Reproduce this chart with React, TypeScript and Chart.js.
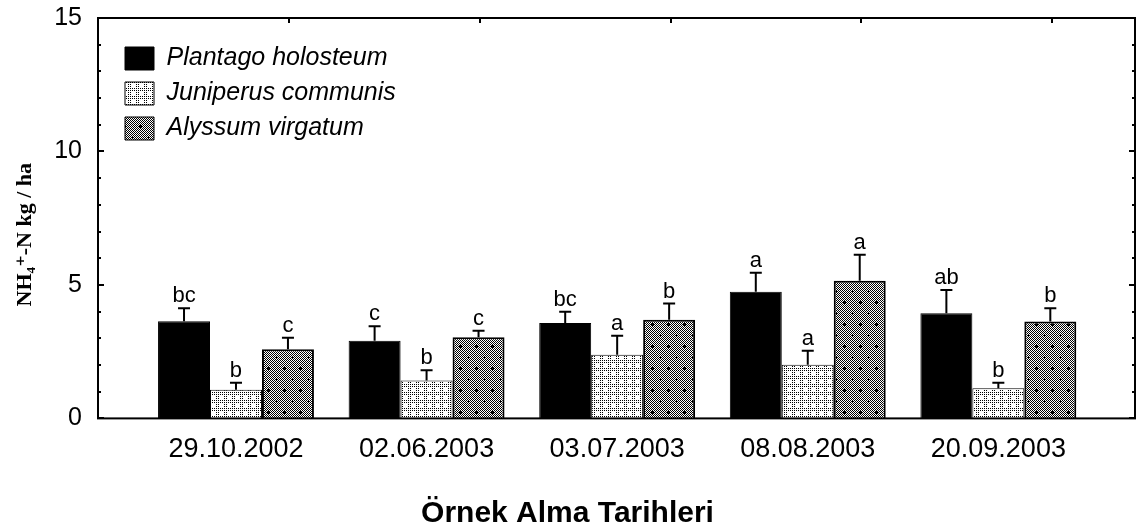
import React, { useEffect, useRef } from 'react';
import { Chart, registerables } from 'chart.js';

Chart.register(...registerables);

const categories = ['29.10.2002', '02.06.2003', '03.07.2003', '08.08.2003', '20.09.2003'];
const seriesNames = ['Plantago holosteum', 'Juniperus communis', 'Alyssum virgatum'];

const plantago = [3.64, 2.91, 3.57, 4.74, 3.94];
const plantagoErr = [4.13, 3.45, 4.0, 5.46, 4.81];
const plantagoLetters = ['bc', 'c', 'bc', 'a', 'ab'];

const juniperus = [1.07, 1.42, 2.38, 2.01, 1.13];
const juniperusErr = [1.34, 1.8, 3.1, 2.53, 1.34];
const juniperusLetters = ['b', 'b', 'a', 'a', 'b'];

const alyssum = [2.59, 3.04, 3.7, 5.16, 3.63];
const alyssumErr = [3.02, 3.28, 4.3, 6.13, 4.13];
const alyssumLetters = ['c', 'c', 'b', 'a', 'b'];

const yMin = 0;
const yMax = 15;
const yStep = 5;

const yTitle = 'NH₄⁺-N kg / ha      ';
const xTitle = 'Örnek Alma Tarihleri';

const SANS = "'Liberation Sans', Arial, sans-serif";
const SERIF = "'Liberation Serif', 'DejaVu Serif', serif";

function dotsPattern(ctx: CanvasRenderingContext2D) {
  const c = document.createElement('canvas');
  c.width = 8;
  c.height = 8;
  const g = c.getContext('2d')!;
  g.fillStyle = '#fff';
  g.fillRect(0, 0, 8, 8);
  g.fillStyle = '#000';
  for (let y = 0; y < 8; y += 2) {
    for (let x = 0; x < 8; x += 2) {
      if ((x === 4 || x === 6) && (y === 4 || y === 6)) continue;
      g.fillRect(x, y, 1, 1);
    }
  }
  return ctx.createPattern(c, 'repeat')!;
}

function checkPlusPattern(ctx: CanvasRenderingContext2D) {
  const w = 16;
  const h = 22;
  const c = document.createElement('canvas');
  c.width = w;
  c.height = h;
  const g = c.getContext('2d')!;
  g.fillStyle = '#fff';
  g.fillRect(0, 0, w, h);
  g.fillStyle = '#000';
  for (let y = 0; y < h; y++) {
    for (let x = 0; x < w; x++) {
      if ((x + y) % 2 === 0) g.fillRect(x, y, 1, 1);
    }
  }
  const plus = (px: number, py: number) => {
    g.fillRect(px - 1, py, 3, 1);
    g.fillRect(px, py - 1, 1, 3);
  };
  plus(4, 5);
  plus(12, 16);
  return ctx.createPattern(c, 'repeat')!;
}

const errorBarPlugin = {
  id: 'errorBars',
  afterDatasetsDraw(chart: any) {
    const ctx: CanvasRenderingContext2D = chart.ctx;
    const yScale = chart.scales.y;
    chart.data.datasets.forEach((ds: any, di: number) => {
      const meta = chart.getDatasetMeta(di);
      meta.data.forEach((bar: any, j: number) => {
        const top = yScale.getPixelForValue(ds.errTop[j]);
        ctx.save();
        ctx.strokeStyle = '#000';
        ctx.lineWidth = 2;
        ctx.beginPath();
        ctx.moveTo(bar.x, bar.y);
        ctx.lineTo(bar.x, top);
        ctx.moveTo(bar.x - 6, top);
        ctx.lineTo(bar.x + 6, top);
        ctx.stroke();
        ctx.font = `22px ${SANS}`;
        ctx.fillStyle = '#000';
        ctx.textAlign = 'center';
        ctx.textBaseline = 'alphabetic';
        ctx.fillText(ds.letters[j], bar.x, top - 6);
        ctx.restore();
      });
    });
  },
};

const framePlugin = {
  id: 'frame',
  afterDraw(chart: any) {
    const ctx: CanvasRenderingContext2D = chart.ctx;
    const { left, right, top, bottom } = chart.chartArea;
    const yScale = chart.scales.y;
    const xScale = chart.scales.x;
    ctx.save();
    ctx.strokeStyle = '#000';
    ctx.lineWidth = 2;
    ctx.strokeRect(left, top, right - left, bottom - top);
    ctx.beginPath();
    for (let v = yMin; v <= yMax; v++) {
      const py = Math.round(yScale.getPixelForValue(v));
      const len = v % yStep === 0 ? 6 : 3;
      ctx.moveTo(left, py);
      ctx.lineTo(left + len, py);
      ctx.moveTo(right, py);
      ctx.lineTo(right - len, py);
    }
    categories.forEach((_, i) => {
      const px = Math.round(xScale.getPixelForValue(i + 0.28));
      ctx.moveTo(px, top);
      ctx.lineTo(px, top + 5);
    });
    ctx.stroke();
    ctx.restore();
  },
};

const legendShiftPlugin = {
  id: 'legendShift',
  afterLayout(chart: any) {
    const l = chart.legend;
    if (l) {
      l.left += 17;
      l.top += 36;
    }
  },
};

export default function App() {
  const ref = useRef<HTMLCanvasElement | null>(null);

  useEffect(() => {
    document.body.style.margin = '0';
    document.body.style.overflow = 'hidden';
    const canvas = ref.current!;
    const ctx = canvas.getContext('2d')!;
    const dots = dotsPattern(ctx);
    const check = checkPlusPattern(ctx);

    const toPoints = (arr: number[]) => arr.map((v, i) => ({ x: i, y: v }));

    const chart = new Chart(canvas, {
      type: 'bar',
      data: {
        datasets: [
          {
            label: seriesNames[0],
            data: toPoints(plantago),
            backgroundColor: '#000',
            borderColor: '#000',
            borderWidth: 1,
            errTop: plantagoErr,
            letters: plantagoLetters,
          } as any,
          {
            label: seriesNames[1],
            data: toPoints(juniperus),
            backgroundColor: dots,
            borderColor: '#000',
            borderWidth: 1,
            errTop: juniperusErr,
            letters: juniperusLetters,
          } as any,
          {
            label: seriesNames[2],
            data: toPoints(alyssum),
            backgroundColor: check,
            borderColor: '#000',
            borderWidth: 2,
            errTop: alyssumErr,
            letters: alyssumLetters,
          } as any,
        ],
      },
      options: {
        animation: false,
        responsive: false,
        devicePixelRatio: 1,
        layout: { padding: { top: 18, right: 3, left: 0, bottom: 0 } },
        datasets: {
          bar: { categoryPercentage: 0.818, barPercentage: 1, borderSkipped: 'start' },
        },
        scales: {
          x: {
            type: 'linear',
            min: -0.724,
            max: 4.717,
            offset: false,
            grid: { display: false, drawTicks: false },
            border: { display: false },
            afterBuildTicks: (s: any) => {
              s.ticks = categories.map((_, i) => ({ value: i }));
            },
            afterFit: (s: any) => {
              s.height = 47;
              s.paddingLeft = 0;
              s.paddingRight = 0;
            },
            ticks: {
              autoSkip: false,
              maxRotation: 0,
              padding: 15,
              color: '#000',
              font: { family: SANS, size: 27 },
              callback: (v: any) => categories[v as number] ?? '',
            },
          },
          y: {
            type: 'linear',
            min: yMin,
            max: yMax,
            grid: { display: false, drawTicks: false },
            border: { display: false },
            afterFit: (s: any) => {
              s.width = 98;
              s.paddingTop = 0;
              s.paddingBottom = 0;
            },
            ticks: {
              stepSize: yStep,
              padding: 16,
              color: '#000',
              font: { family: SANS, size: 25 },
            },
            title: {
              display: true,
              text: yTitle,
              color: '#000',
              font: { family: SERIF, size: 22, weight: 'bold' },
              padding: { top: 12, bottom: 0 },
            },
          },
        },
        plugins: {
          tooltip: { enabled: false },
          title: {
            display: true,
            position: 'bottom',
            text: xTitle,
            color: '#000',
            font: { family: SANS, size: 30, weight: 'bold', lineHeight: 1 },
            padding: { top: 33.6, bottom: 0 },
          },
          legend: {
            position: 'chartArea' as any,
            align: 'start',
            labels: {
              boxWidth: 29,
              boxHeight: 23,
              padding: 10,
              color: '#000',
              font: { family: SANS, size: 25, style: 'italic' },
              generateLabels: (c: any) =>
                c.data.datasets.map((ds: any, i: number) => ({
                  text: ds.label,
                  fillStyle: ds.backgroundColor,
                  strokeStyle: '#000',
                  lineWidth: 1,
                  hidden: false,
                  datasetIndex: i,
                  fontColor: '#000',
                })),
            },
          },
        },
      } as any,
      plugins: [errorBarPlugin, framePlugin, legendShiftPlugin],
    });

    return () => chart.destroy();
  }, []);

  return (
    <div style={{ width: 1138, height: 529 }}>
      <canvas ref={ref} width={1138} height={529} style={{ display: 'block' }} />
    </div>
  );
}
